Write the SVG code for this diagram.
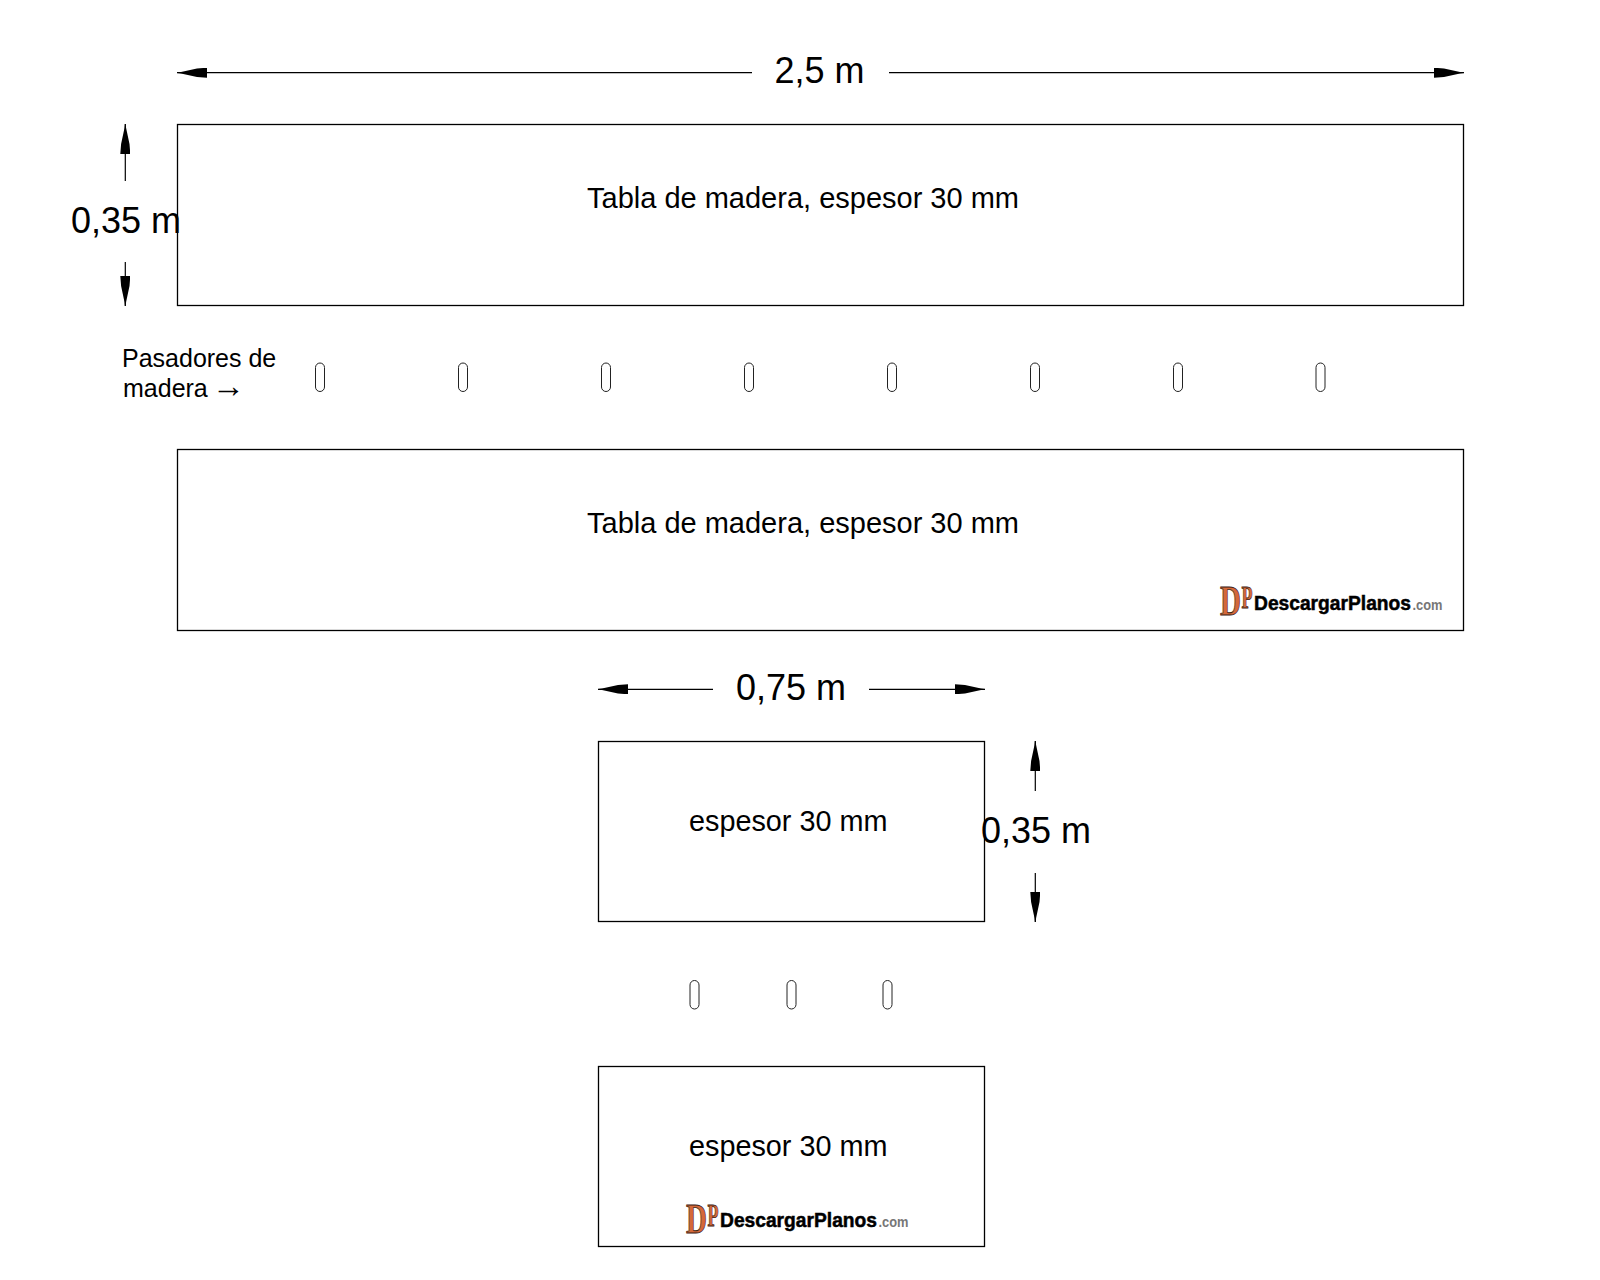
<svg xmlns="http://www.w3.org/2000/svg" width="1600" height="1280" viewBox="0 0 1600 1280">
<style>
.board{fill:#fff;stroke:#000;stroke-width:1.3}
.pin{fill:#fff;stroke:#222;stroke-width:1}
.dim{fill:none;stroke:#000;stroke-width:1.2}
.head{fill:#000}
text{font-family:"Liberation Sans",Arial,sans-serif;fill:#000}
.big{font-size:36px}
.lab{font-size:29px}
.lab2{font-size:28.8px}
.note{font-size:25px}
.arr{font-size:33px}
.lgd{font-family:"Liberation Serif",serif;font-weight:700;font-size:42px;fill:#d4683a;stroke:#3a2010;stroke-width:.8}
.lgp{font-family:"Liberation Serif",serif;font-weight:700;font-size:32px;fill:#d4683a;stroke:#3a2010;stroke-width:.8}
.lgt{font-size:20.5px;font-weight:700;stroke:#000;stroke-width:.5}
.lgc{font-size:14px;font-weight:700;fill:#777}
</style>
<defs>
<marker id="ah" viewBox="0 0 30 10" refX="30" refY="5" markerWidth="30" markerHeight="10" markerUnits="userSpaceOnUse" orient="auto-start-reverse"><path class="head" d="M0 0L10 0.8L26 4.2L30 4.6L30 5.4L26 5.8L10 9.2L0 10Z"/></marker>
</defs>
<rect width="1600" height="1280" fill="#fff"/>
<g id="board-long-1"><rect class="board" x="177.5" y="124.5" width="1286" height="181"/><text class="lab" x="587" y="207.5" textLength="432" lengthAdjust="spacingAndGlyphs">Tabla de madera, espesor 30 mm</text></g>
<g id="board-long-2"><rect class="board" x="177.5" y="449.5" width="1286" height="181"/><text class="lab" x="587" y="532.5" textLength="432" lengthAdjust="spacingAndGlyphs">Tabla de madera, espesor 30 mm</text></g>
<g id="board-short-1"><rect class="board" x="598.5" y="741.5" width="386" height="180"/><text class="lab2" x="689" y="830.7">espesor 30 mm</text></g>
<g id="board-short-2"><rect class="board" x="598.5" y="1066.5" width="386" height="180"/><text class="lab2" x="689" y="1155.7">espesor 30 mm</text></g>
<g id="pins-long">
<rect class="pin" x="315.5" y="363" width="9" height="28.5" rx="4.5"/>
<rect class="pin" x="458.5" y="363" width="9" height="28.5" rx="4.5"/>
<rect class="pin" x="601.5" y="363" width="9" height="28.5" rx="4.5"/>
<rect class="pin" x="744.5" y="363" width="9" height="28.5" rx="4.5"/>
<rect class="pin" x="887.5" y="363" width="9" height="28.5" rx="4.5"/>
<rect class="pin" x="1030.5" y="363" width="9" height="28.5" rx="4.5"/>
<rect class="pin" x="1173.5" y="363" width="9" height="28.5" rx="4.5"/>
<rect class="pin" x="1316" y="363" width="9" height="28.5" rx="4.5"/>
</g>
<g id="pins-short">
<rect class="pin" x="690" y="980.5" width="9" height="28.5" rx="4.5"/>
<rect class="pin" x="787" y="980.5" width="9" height="28.5" rx="4.5"/>
<rect class="pin" x="883" y="980.5" width="9" height="28.5" rx="4.5"/>
</g>
<g id="pins-label"><text class="note" x="122" y="366.7">Pasadores de</text><text class="note" x="123" y="396.7">madera <tspan class="arr" dx="-3">→</tspan></text></g>
<g id="connectors">
<line class="dim" x1="752" y1="72.7" x2="177" y2="72.7" marker-end="url(#ah)"/>
<line class="dim" x1="889" y1="72.7" x2="1464" y2="72.7" marker-end="url(#ah)"/>
<line class="dim" x1="125.3" y1="181" x2="125.3" y2="124" marker-end="url(#ah)"/>
<line class="dim" x1="125.3" y1="262" x2="125.3" y2="306" marker-end="url(#ah)"/>
<line class="dim" x1="713" y1="689.3" x2="598" y2="689.3" marker-end="url(#ah)"/>
<line class="dim" x1="869" y1="689.3" x2="985" y2="689.3" marker-end="url(#ah)"/>
<line class="dim" x1="1035.3" y1="791" x2="1035.3" y2="741" marker-end="url(#ah)"/>
<line class="dim" x1="1035.3" y1="873" x2="1035.3" y2="922" marker-end="url(#ah)"/>
</g>
<g id="dim-labels">
<text class="big" x="774.5" y="83">2,5 m</text>
<text class="big" x="71" y="233">0,35 m</text>
<text class="big" x="736" y="700">0,75 m</text>
<text class="big" x="981" y="843">0,35 m</text>
</g>
<g id="logo-1">
<text class="lgd" x="1220" y="615" textLength="21" lengthAdjust="spacingAndGlyphs">D</text><text class="lgp" x="1241.5" y="608" textLength="11" lengthAdjust="spacingAndGlyphs">P</text>
<text class="lgt" x="1254" y="609.5" textLength="157" lengthAdjust="spacingAndGlyphs">DescargarPlanos</text>
<text class="lgc" x="1412.5" y="609.5" textLength="30" lengthAdjust="spacingAndGlyphs">.com</text>
</g>
<g id="logo-2">
<text class="lgd" x="686" y="1233" textLength="21" lengthAdjust="spacingAndGlyphs">D</text><text class="lgp" x="707.5" y="1226" textLength="11" lengthAdjust="spacingAndGlyphs">P</text>
<text class="lgt" x="720" y="1227" textLength="157" lengthAdjust="spacingAndGlyphs">DescargarPlanos</text>
<text class="lgc" x="878.5" y="1227" textLength="30" lengthAdjust="spacingAndGlyphs">.com</text>
</g>
</svg>
